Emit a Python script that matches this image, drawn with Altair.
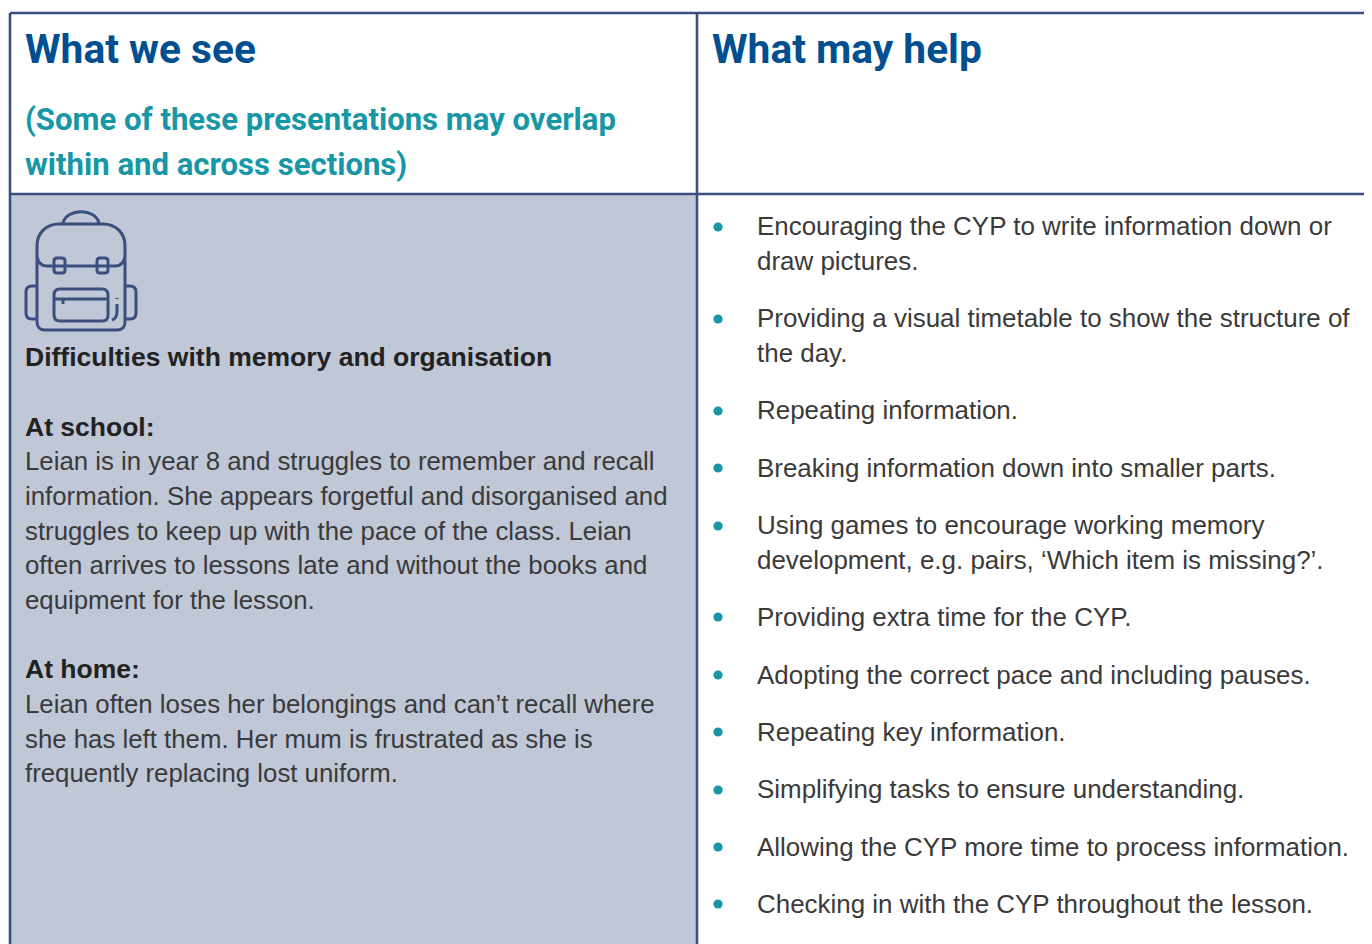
import altair as alt
import pandas as pd

titles = ["What we see", "What may help"]
subtitle = ["(Some of these presentations may overlap", "within and across sections)"]
left_bold = ["Difficulties with memory and organisation", "At school:", "At home:"]
left_body = [
    "Leian is in year 8 and struggles to remember and recall",
    "information. She appears forgetful and disorganised and",
    "struggles to keep up with the pace of the class. Leian",
    "often arrives to lessons late and without the books and",
    "equipment for the lesson.",
    "Leian often loses her belongings and can\u2019t recall where",
    "she has left them. Her mum is frustrated as she is",
    "frequently replacing lost uniform.",
]
right_body = [
    "Encouraging the CYP to write information down or",
    "draw pictures.",
    "Providing a visual timetable to show the structure of",
    "the day.",
    "Repeating information.",
    "Breaking information down into smaller parts.",
    "Using games to encourage working memory",
    "development, e.g. pairs, \u2018Which item is missing?\u2019.",
    "Providing extra time for the CYP.",
    "Adopting the correct pace and including pauses.",
    "Repeating key information.",
    "Simplifying tasks to ensure understanding.",
    "Allowing the CYP more time to process information.",
    "Checking in with the CYP throughout the lesson.",
]

title_x = [25, 712]
title_y = [62.5, 62.5]
subtitle_y = [130, 175]
left_bold_y = [366, 436, 678]
left_body_y = [470, 505, 540, 574, 609, 713, 748, 782]
right_body_y = [235, 270, 327, 362, 419, 477, 534, 569, 626, 684, 741, 798, 856, 913]
bullet_y = [227, 319, 411, 468, 526, 617, 675, 732, 790, 847, 904]

NAVY = "#3b4f7f"
X = alt.X("x:Q", scale=alt.Scale(domain=[8, 1364]), axis=None)
Y = alt.Y("y:Q", scale=alt.Scale(domain=[8, 944], reverse=True), axis=None)


def text_layer(texts, xs, ys, size, color, font, weight="normal"):
    df = pd.DataFrame({"x": xs, "y": ys, "t": texts})
    return alt.Chart(df).mark_text(
        align="left", baseline="alphabetic", fontSize=size, color=color,
        font=font, fontWeight=weight,
    ).encode(x=X, y=Y, text="t:N")


panel = alt.Chart(pd.DataFrame({"x": [10], "x2": [697], "y": [194], "y2": [944]})).mark_rect(
    color="#c0c8d8"
).encode(x=X, x2="x2:Q", y=Y, y2="y2:Q")

h_lines = alt.Chart(pd.DataFrame({"x": [10, 10], "x2": [1364, 1364], "y": [13, 194]})).mark_rule(
    color=NAVY, strokeWidth=2.6
).encode(x=X, x2="x2:Q", y=Y)
v_lines = alt.Chart(pd.DataFrame({"x": [10, 697], "y": [13, 13], "y2": [944, 944]})).mark_rule(
    color=NAVY, strokeWidth=2.6
).encode(x=X, y=Y, y2="y2:Q")

bullets = alt.Chart(pd.DataFrame({"x": [718] * len(bullet_y), "y": bullet_y})).mark_circle(
    color="#1797a6", size=85, opacity=1
).encode(x=X, y=Y)

# backpack outline drawn around its centre (81, 270)
icon_path = (
    "M-18 -47 C-14 -62 14 -62 18 -47 "
    "M-22 -46 L22 -46 C35 -46 44 -37 44 -24 L44 52 C44 57 41 60 36 60 L-36 60 C-41 60 -44 57 -44 52 L-44 -24 C-44 -37 -35 -46 -22 -46 Z "
    "M-44 -14 C-43 -7 -39 -4 -34 -4 L34 -4 C39 -4 43 -7 44 -14 "
    "M-24 -12 L-19 -12 Q-16 -12 -16 -9 L-16 0 Q-16 3 -19 3 L-24 3 Q-27 3 -27 0 L-27 -9 Q-27 -12 -24 -12 Z "
    "M19 -12 L24 -12 Q27 -12 27 -9 L27 0 Q27 3 24 3 L19 3 Q16 3 16 0 L16 -9 Q16 -12 19 -12 Z "
    "M-21 19 L21 19 Q27 19 27 25 L27 45 Q27 51 21 51 L-21 51 Q-27 51 -27 45 L-27 25 Q-27 19 -21 19 Z "
    "M-27 29 L27 29 M-18 29 L-18 34 "
    "M36 28 L36 29 M36 34 L36 42 C36 46 34 49 31 50 "
    "M-44 16 L-49 16 Q-55 16 -55 22 L-55 43 Q-55 49 -49 49 L-44 49 "
    "M44 16 L49 16 Q55 16 55 22 L55 43 Q55 49 49 49 L44 49"
)
icon = alt.Chart(pd.DataFrame({"x": [81], "y": [270]})).mark_point(
    shape=icon_path, size=4, stroke=NAVY, strokeWidth=3, filled=False, opacity=1
).encode(x=X, y=Y)

HEAD = "Roboto"
BODY = "Liberation Sans"
TXT = "#3a3a3a"

chart = alt.layer(
    panel, h_lines, v_lines, icon, bullets,
    text_layer(titles, title_x, title_y, 40.7, "#004f91", HEAD, "bold"),
    text_layer(subtitle, [25, 25], subtitle_y, 31.1, "#1797a6", HEAD, "bold"),
    text_layer(left_bold, [25] * 3, left_bold_y, 26.5, "#222222", BODY, "bold"),
    text_layer(left_body, [25] * 8, left_body_y, 25.8, TXT, BODY),
    text_layer(right_body, [757] * 14, right_body_y, 25.95, TXT, BODY),
).properties(
    width=1356, height=936, padding=0, autosize=alt.AutoSizeParams(type="none")
).configure_view(stroke=None)

chart.save("out.html", embed_options={"renderer": "svg", "actions": False})
